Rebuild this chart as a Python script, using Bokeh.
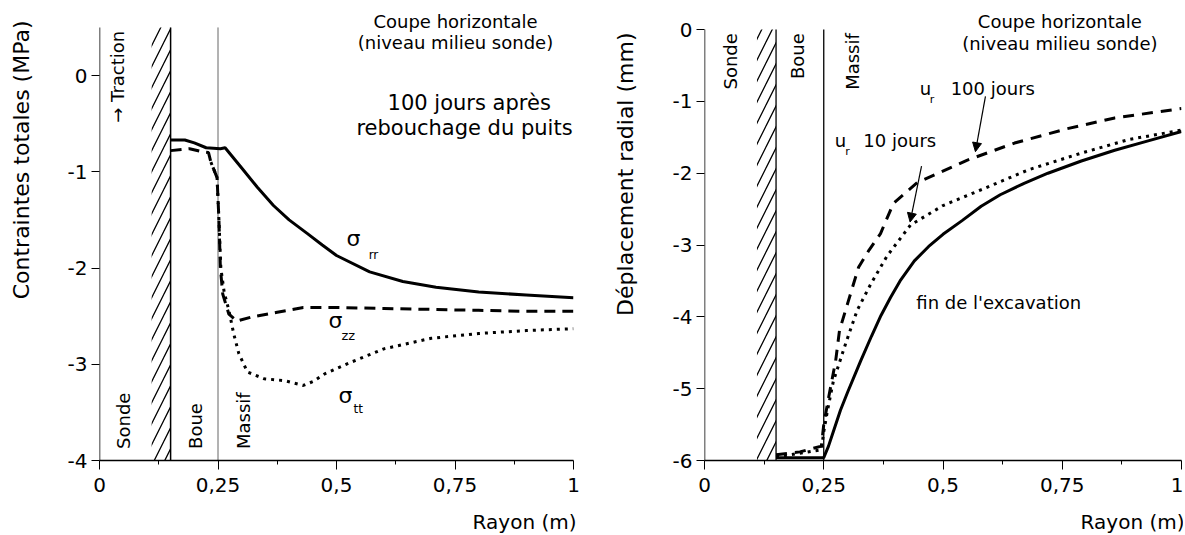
import math
from bokeh.plotting import figure
from bokeh.layouts import row
from bokeh.models import FixedTicker, CustomJSTickFormatter, Label, Arrow, NormalHead, Title
from bokeh.embed import file_html
from bokeh.resources import INLINE

FONT = "DejaVu Sans"

# ---------------- data: left panel (contraintes totales, MPa) ----------------
x_ticks = [0, 0.25, 0.5, 0.75, 1]
x_minor = [0.125, 0.375, 0.625, 0.875]
y_ticks_left = [0, -1, -2, -3, -4]
y_ticks_right = [0, -1, -2, -3, -4, -5, -6]

rr_x = [0.15, 0.18, 0.20, 0.225, 0.255, 0.265, 0.30, 0.333, 0.367, 0.40, 0.438, 0.47, 0.50, 0.57, 0.64, 0.71, 0.80, 0.90, 1.00]
rr_y = [-0.67, -0.67, -0.70, -0.75, -0.76, -0.75, -0.96, -1.16, -1.35, -1.50, -1.64, -1.76, -1.87, -2.04, -2.14, -2.20, -2.25, -2.28, -2.31]

zz_x = [0.15, 0.19, 0.215, 0.23, 0.235, 0.248, 0.252, 0.255, 0.26, 0.273, 0.29, 0.32, 0.375, 0.43, 0.50, 0.60, 0.70, 0.80, 0.90, 1.00]
zz_y = [-0.78, -0.76, -0.79, -0.80, -0.90, -1.06, -1.50, -2.00, -2.27, -2.48, -2.55, -2.51, -2.46, -2.41, -2.41, -2.42, -2.43, -2.44, -2.45, -2.45]

tt_x = [0.235, 0.248, 0.252, 0.256, 0.263, 0.273, 0.283, 0.294, 0.312, 0.347, 0.39, 0.43, 0.45, 0.475, 0.53, 0.60, 0.70, 0.80, 0.90, 1.00]
tt_y = [-0.90, -1.06, -1.50, -2.00, -2.25, -2.44, -2.68, -2.89, -3.08, -3.15, -3.17, -3.22, -3.18, -3.10, -2.98, -2.84, -2.73, -2.68, -2.65, -2.63]

# ---------------- data: right panel (deplacement radial, mm) ----------------
exc_x = [0.15, 0.25, 0.26, 0.27, 0.285, 0.30, 0.327, 0.35, 0.37, 0.39, 0.41, 0.44, 0.47, 0.50, 0.54, 0.58, 0.62, 0.67, 0.72, 0.79, 0.86, 0.93, 1.00]
exc_y = [-5.96, -5.96, -5.80, -5.60, -5.30, -5.05, -4.62, -4.27, -3.98, -3.73, -3.50, -3.22, -3.02, -2.85, -2.66, -2.46, -2.30, -2.14, -2.00, -1.83, -1.68, -1.55, -1.42]

d10_x = [0.15, 0.20, 0.245, 0.25, 0.258, 0.27, 0.296, 0.32, 0.348, 0.383, 0.432, 0.50, 0.58, 0.68, 0.79, 0.89, 1.00]
d10_y = [-5.95, -5.90, -5.85, -5.60, -5.30, -4.90, -4.37, -3.91, -3.55, -3.15, -2.72, -2.45, -2.23, -1.95, -1.72, -1.53, -1.40]

d100_x = [0.15, 0.20, 0.245, 0.25, 0.26, 0.275, 0.283, 0.302, 0.323, 0.345, 0.369, 0.396, 0.446, 0.55, 0.65, 0.76, 0.86, 1.00]
d100_y = [-5.92, -5.88, -5.80, -5.50, -5.13, -4.61, -4.19, -3.77, -3.31, -3.07, -2.84, -2.42, -2.13, -1.82, -1.58, -1.38, -1.23, -1.10]

# zone limits (m): sonde wall (hatched), mud / rock interface
hatch_zone = [0.11, 0.15]
interfaces = [0.15, 0.25]


def lab(p, x, y, text, size, angle=0.0, align="left", baseline="middle", xo=0, yo=0):
    p.add_layout(Label(x=x, y=y, text=text, text_font=FONT, text_font_size=f"{size}px",
                       angle=angle, text_align=align, text_baseline=baseline,
                       x_offset=xo, y_offset=yo, text_color="black"))


def side_title(p, text, place, size, align, offset, standoff):
    p.add_layout(Title(text=text, text_font=FONT, text_font_size=f"{size}px",
                       text_font_style="normal", text_color="black",
                       align=align, offset=offset, standoff=standoff), place)


def make_fig(width, bl, br, yr, yticks, ytop, ypad):
    p = figure(width=width, height=535, x_range=(0, 1), y_range=yr,
               output_backend="svg", toolbar_location=None,
               min_border_left=bl, min_border_right=br, min_border_top=0, min_border_bottom=75)
    p.outline_line_color = None
    p.xgrid.visible = False
    p.ygrid.visible = False
    p.background_fill_color = "white"
    p.border_fill_color = "white"
    fmt = "return String(tick).replace('.', ',');"
    xa = p.xaxis[0]
    xa.ticker = FixedTicker(ticks=x_ticks, minor_ticks=x_minor)
    xa.formatter = CustomJSTickFormatter(code=fmt)
    xa.axis_line_width = 1.5
    xa.axis_line_color = "black"
    xa.major_tick_in = 0
    xa.major_tick_out = 9
    xa.minor_tick_in = 0
    xa.minor_tick_out = 4
    xa.major_tick_line_color = "black"
    xa.minor_tick_line_color = "black"
    xa.major_label_text_font = FONT
    xa.major_label_text_font_size = "20px"
    xa.major_label_text_color = "black"
    xa.major_label_standoff = 8
    # blank spacer label: only reserves room so that "Rayon (m)" sits lower
    xa.axis_label = " "
    xa.axis_label_text_font_size = "2px"
    xa.axis_label_standoff = 7
    ya = p.yaxis[0]
    ya.ticker = FixedTicker(ticks=yticks, minor_ticks=[])
    ya.formatter = CustomJSTickFormatter(code=fmt)
    ya.axis_line_color = None
    ya.major_tick_in = 0
    ya.major_tick_out = 8
    ya.major_tick_line_color = "black"
    ya.minor_tick_line_color = None
    ya.major_label_text_font = FONT
    ya.major_label_text_font_size = "20px"
    ya.major_label_text_color = "black"
    ya.major_label_standoff = 4
    ya.axis_label = " "
    ya.axis_label_text_font_size = "2px"
    ya.axis_label_standoff = ypad
    ybot = yticks[-1]
    # y axis line only up to the top of the scale
    p.segment(x0=[0], y0=[ybot], x1=[0], y1=[ytop], line_color="black", line_width=1.5)
    # hatched wall of the probe
    p.quad(left=[hatch_zone[0]], right=[hatch_zone[1]], bottom=[ybot], top=[ytop],
           fill_alpha=0, line_alpha=0, hatch_pattern="/", hatch_scale=21,
           hatch_weight=1.3, hatch_color="black")
    return p


# ---------------- left figure ----------------
p1 = make_fig(581, 99, 8, (-4, 0.78), y_ticks_left, 0.5, 21)
p1.segment(x0=[interfaces[0]], y0=[-4], x1=[interfaces[0]], y1=[0.5], line_color="black", line_width=1.5)
p1.segment(x0=[interfaces[1]], y0=[-4], x1=[interfaces[1]], y1=[0.5], line_color="#666666", line_width=1)

p1.line(rr_x, rr_y, line_color="black", line_width=3)
p1.line(zz_x, zz_y, line_color="black", line_width=3, line_dash="11 7")
p1.line(tt_x, tt_y, line_color="black", line_width=3, line_dash="3 5")

side_title(p1, "Contraintes totales (MPa)", "left", 22, "right", 20, 10)
side_title(p1, "Rayon (m)", "below", 20, "right", -3, 2)
lab(p1, 0.038, -0.49, "\u2192 Traction", 18, angle=math.pi / 2, align="left")
lab(p1, 0.05, -3.88, "Sonde", 18, angle=math.pi / 2, align="left")
lab(p1, 0.2025, -3.88, "Boue", 18, angle=math.pi / 2, align="left")
lab(p1, 0.304, -3.88, "Massif", 18, angle=math.pi / 2, align="left")
lab(p1, 0.751, 0.56, "Coupe horizontale", 18, align="center")
lab(p1, 0.751, 0.34, "(niveau milieu sonde)", 18, align="center")
lab(p1, 0.78, -0.29, "100 jours apr\u00e8s", 21, align="center")
lab(p1, 0.77, -0.55, "rebouchage du puits", 21, align="center")
lab(p1, 0.536, -1.69, "\u03c3", 22, align="center")
lab(p1, 0.578, -1.86, "rr", 12, align="center")
lab(p1, 0.498, -2.55, "\u03c3", 22, align="center")
lab(p1, 0.525, -2.70, "zz", 13, align="center")
lab(p1, 0.519, -3.32, "\u03c3", 22, align="center")
lab(p1, 0.546, -3.46, "tt", 12, align="center")

# ---------------- right figure ----------------
p2 = make_fig(602, 123, 2, (-6, 0.405), y_ticks_right, 0, 22)
p2.segment(x0=interfaces, y0=[-6, -6], x1=interfaces, y1=[0, 0], line_color="black", line_width=1.3)

p2.line(exc_x, exc_y, line_color="black", line_width=3)
p2.line(d10_x, d10_y, line_color="black", line_width=3, line_dash="3 5")
p2.line(d100_x, d100_y, line_color="black", line_width=3, line_dash="11 8")

side_title(p2, "D\u00e9placement radial (mm)", "left", 22, "right", 32, 10)
side_title(p2, "Rayon (m)", "below", 20, "right", -3, 2)
lab(p2, 0.055, -0.05, "Sonde", 18, angle=math.pi / 2, align="right")
lab(p2, 0.195, -0.05, "Boue", 18, angle=math.pi / 2, align="right")
lab(p2, 0.31, -0.05, "Massif", 18, angle=math.pi / 2, align="right")
lab(p2, 0.745, 0.11, "Coupe horizontale", 18, align="center")
lab(p2, 0.745, -0.20, "(niveau milieu sonde)", 18, align="center")
lab(p2, 0.463, -0.82, "u", 18, align="center")
lab(p2, 0.477, -0.97, "r", 11, align="center")
lab(p2, 0.516, -0.82, "100 jours", 18, align="left")
lab(p2, 0.285, -1.55, "u", 18, align="center")
lab(p2, 0.300, -1.70, "r", 11, align="center")
lab(p2, 0.333, -1.55, "10 jours", 18, align="left")
lab(p2, 0.444, -3.80, "fin de l'excavation", 18, align="left")

p2.add_layout(Arrow(end=NormalHead(size=9, fill_color="black", line_color="black"),
                    x_start=0.589, y_start=-0.93, x_end=0.568, y_end=-1.70,
                    line_color="black", line_width=1.2))
p2.add_layout(Arrow(end=NormalHead(size=9, fill_color="black", line_color="black"),
                    x_start=0.455, y_start=-1.90, x_end=0.431, y_end=-2.68,
                    line_color="black", line_width=1.2))

layout = row(p1, p2)
open("out.html", "w").write(file_html(layout, INLINE))
